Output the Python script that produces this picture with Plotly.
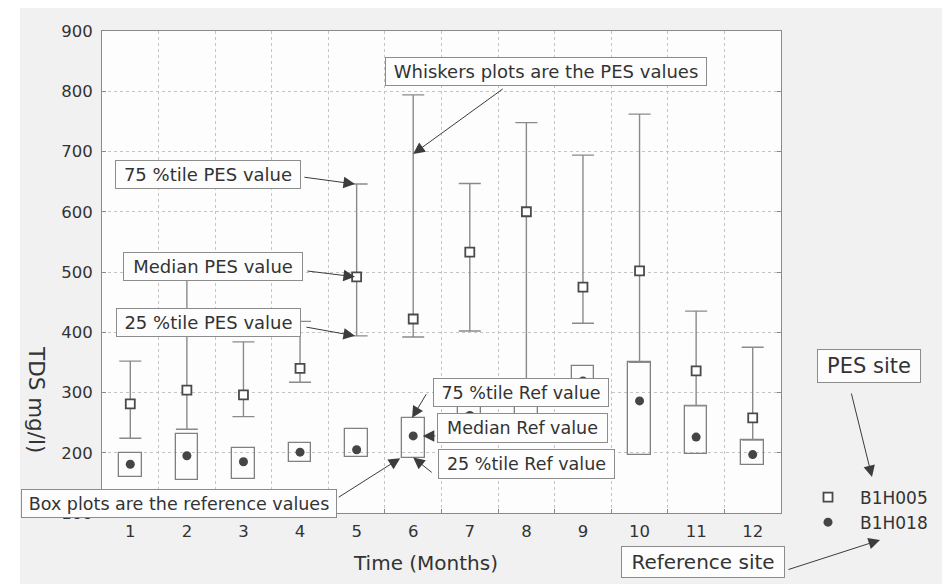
import plotly.graph_objects as go

# ---- data ----
months = [1, 2, 3, 4, 5, 6, 7, 8, 9, 10, 11, 12]
month_labels = ["1", "2", "3", "4", "5", "6", "7", "8", "9", "10", "11", "12"]

# PES site (B1H005) - whisker plots: 25th percentile, median, 75th percentile
pes_q25 = [224, 239, 260, 317, 394, 392, 402, 300, 415, 350, 278, 221]
pes_med = [281, 304, 296, 340, 492, 422, 533, 600, 475, 502, 336, 258]
pes_q75 = [352, 510, 384, 418, 646, 794, 647, 748, 694, 762, 435, 375]

# Reference site (B1H018) - box plots: 25th percentile, median, 75th percentile
ref_q25 = [160, 155, 156, 185, 193, 192, 225, 230, 290, 196, 198, 180]
ref_med = [181, 195, 185, 201, 205, 228, 262, 250, 319, 286, 226, 197]
ref_q75 = [199, 231, 208, 217, 240, 258, 290, 290, 344, 350, 278, 221]

y_ticks = [100, 200, 300, 400, 500, 600, 700, 800, 900]
x_minor = [1.5, 2.5, 3.5, 4.5, 5.5, 6.5, 7.5, 8.5, 9.5, 10.5, 11.5]

FONT = "DejaVu Sans"
TXT = "#333333"
GRID = "#c4c4c4"
FRAME = "#8a8a8a"

fig = go.Figure()

# PES whiskers with median squares
fig.add_trace(go.Scatter(
    x=months, y=pes_med, mode="markers", name="B1H005",
    marker=dict(symbol="square", size=9, color="white",
                line=dict(color="#4a4a4a", width=1.8)),
    error_y=dict(type="data", symmetric=False,
                 array=[h - m for h, m in zip(pes_q75, pes_med)],
                 arrayminus=[m - l for m, l in zip(pes_med, pes_q25)],
                 color="#8a8a8a", thickness=1.4, width=11),
))

# Reference boxes (25th-75th percentile)
fig.add_trace(go.Bar(
    x=months, y=[h - l for h, l in zip(ref_q75, ref_q25)], base=ref_q25,
    width=0.4, showlegend=False, hoverinfo="skip",
    marker=dict(color="rgba(255,255,255,0)", line=dict(color="#808080", width=1.3)),
))

# Reference medians
fig.add_trace(go.Scatter(
    x=months, y=ref_med, mode="markers", name="B1H018",
    marker=dict(symbol="circle", size=9, color="#454545"),
))

fig.update_xaxes(
    range=[0.5, 12.5], tickmode="array", tickvals=months, ticktext=month_labels,
    showgrid=False, ticks="", showline=True, linecolor=FRAME, linewidth=1, mirror=True,
    tickfont=dict(family=FONT, size=16.5, color=TXT), zeroline=False,
    ticklabelstandoff=3,
    minor=dict(tickmode="array", tickvals=x_minor, ticks="inside", ticklen=4,
               tickcolor=FRAME, showgrid=True, gridcolor=GRID, griddash="dot", gridwidth=1),
)
fig.update_yaxes(
    range=[100, 900], tickmode="array", tickvals=y_ticks,
    showgrid=True, gridcolor=GRID, griddash="dot", gridwidth=1,
    ticks="inside", ticklen=4, tickcolor=FRAME,
    showline=True, linecolor=FRAME, linewidth=1, mirror="ticks",
    tickfont=dict(family=FONT, size=16.5, color=TXT), zeroline=False,
    ticklabelstandoff=5,
)

# screen-pixel helpers (plot area in the window: x 102..781, y 31..513)
PW, PH, L, T = 679.0, 482.0, 102.0, 31.0


def px(xp):
    return (xp - L) / PW


def py(yp):
    return (T + PH - yp) / PH


annots = []

# text boxes: (text, cx, cy, w, h, size)
boxes = [
    ("Whiskers plots are the PES values", 546, 71.5, 322, 29, 18),
    ("75 %tile PES value", 208, 174.5, 186, 29, 18),
    ("Median PES value", 213, 266.5, 180, 29, 18),
    ("25 %tile PES value", 208.5, 322.5, 185, 29, 18),
    ("Box plots are the reference values", 179, 503.5, 316, 29, 17.5),
    ("75 %tile Ref value", 521, 392.5, 176, 29, 17.5),
    ("Median Ref value", 522.5, 428, 171, 30, 17.5),
    ("25 %tile Ref value", 526.5, 464, 177, 30, 17.5),
    ("PES site", 869, 366, 104, 34, 21),
    ("Reference site", 703, 562, 164, 32, 20),
]

# arrows drawn first (text boxes on top): (tip x, tip y, ref, ax, ay)
arrows = [
    (6.0, 696, "data", 91, -66),
    (4.97, pes_q75[4], "data", -52, -7),
    (4.97, pes_med[4], "data", -49, -6),
    (4.97, pes_q25[4], "data", -50, -9),
    (5.77, 191, "data", -63, 40),
    (5.98, ref_q75[5], "data", 15, -25),
    (6.17, ref_med[5], "data", 14, 0),
    (6.0, ref_q25[5], "data", 20, 16),
    (px(872), py(477), "paper", -21, -85),
    (px(880), py(540), "paper", -93, 30),
]
for tx, ty, ref, ax, ay in arrows:
    r = ("x", "y") if ref == "data" else ("paper", "paper")
    annots.append(dict(
        x=tx, y=ty, xref=r[0], yref=r[1], ax=ax, ay=ay, text="",
        showarrow=True, arrowhead=2, arrowsize=2.3, arrowwidth=1,
        arrowcolor="#3c3c3c", standoff=0, startstandoff=0,
    ))

for text, cx, cy, w, h, s in boxes:
    annots.append(dict(
        x=px(cx), y=py(cy), xref="paper", yref="paper", text=text,
        showarrow=False, xanchor="center", yanchor="middle",
        width=w - 4, height=h - 4, borderpad=1, borderwidth=1,
        bordercolor="#8c8c8c", bgcolor="#fdfdfd",
        font=dict(family=FONT, size=s, color=TXT),
    ))

# axis titles
annots.append(dict(x=px(425), y=py(563), xref="paper", yref="paper",
                   text="Time (Months)", showarrow=False,
                   xanchor="center", yanchor="middle",
                   font=dict(family=FONT, size=20, color=TXT)))
annots.append(dict(x=px(37), y=py(399), xref="paper", yref="paper",
                   text="TDS mg/l)", showarrow=False, textangle=90,
                   xanchor="center", yanchor="middle",
                   font=dict(family=FONT, size=21.5, color=TXT)))

# the page adds an 8px body margin, so the figure is 8px smaller than the window
fig.update_layout(
    width=942, height=576,
    margin=dict(l=94, r=169, t=23, b=71),
    paper_bgcolor="#f1f1f1", plot_bgcolor="#fdfdfd",
    annotations=annots,
    showlegend=True,
    legend=dict(x=px(796), y=py(510), xanchor="left", yanchor="middle",
                bgcolor="rgba(0,0,0,0)", itemwidth=54,
                font=dict(family=FONT, size=17, color=TXT)),
    shapes=[
        dict(type="rect", xref="paper", yref="paper", x0=px(8), x1=px(20),
             y0=py(584), y1=py(8), fillcolor="white", line=dict(width=0), layer="below"),
    ],
    bargap=0,
)

fig.write_html("out.html")
